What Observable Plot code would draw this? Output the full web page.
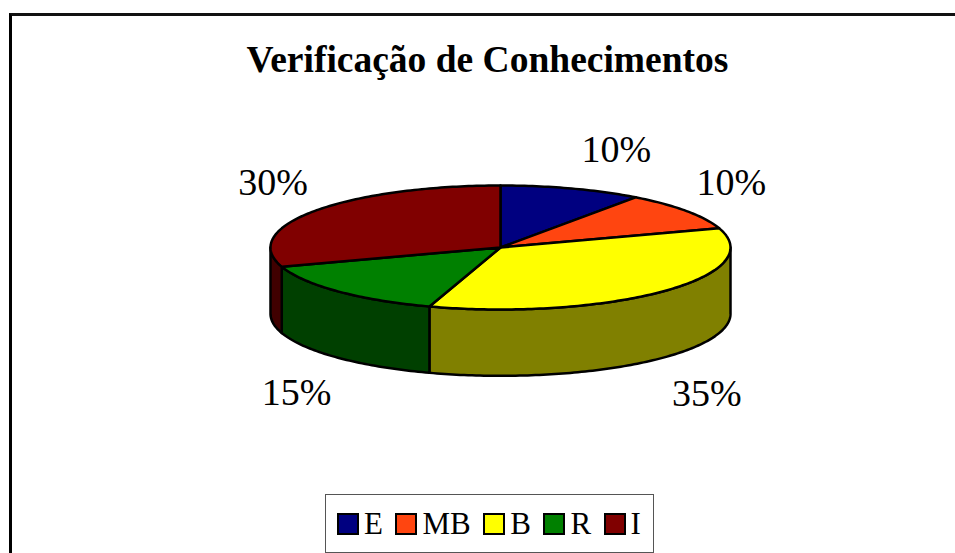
<!DOCTYPE html>
<html>
<head>
<meta charset="utf-8">
<script src="https://cdn.jsdelivr.net/npm/d3@7"></script>
<script src="https://cdn.jsdelivr.net/npm/@observablehq/plot@0.6"></script>
<style>
html,body{margin:0;padding:0;background:#fff;width:955px;height:553px;overflow:hidden}
body{position:relative;font-family:"Liberation Serif",serif;color:#000}
#frame{position:absolute;left:9px;top:13px;width:960px;height:560px;border-left:3px solid #000;border-top:3px solid #000;border-top-color:#111}
#title{position:relative;box-sizing:border-box;width:975px;height:100px;padding-top:38px;text-align:center;font-weight:bold;font-size:37.5px;line-height:44px;white-space:nowrap}
#chart{position:relative;height:394px}
#chart svg{display:block}
#legend{position:relative;box-sizing:border-box;margin-left:325px;width:329px;height:59px;border:1.5px solid #555;display:flex;align-items:center;padding-left:11px;font-size:31px;line-height:34px;background:#fff}
#legend .sw{box-sizing:border-box;width:22px;height:22px;border:2.5px solid #000;margin-right:5px;flex:none}
#legend .lb{margin-right:12.5px}
</style>
</head>
<body>
<div id="frame"></div>
<div id="title">Verificação de Conhecimentos</div>
<div id="chart"></div>
<div id="legend"></div>
<script>
const categories = ["E", "MB", "B", "R", "I"];
const shares = [10, 10, 35, 15, 30];
const topColors = ["#000080", "#FF4510", "#FFFF00", "#008000", "#800000"];
const sideColors = ["#000040", "#802208", "#808000", "#004000", "#400000"];
// label offsets from the slice's rim point, in pie-radius units
const labelDx = [0.195, 0.195, 0.19, -0.18, -0.18];
const labelDy = [0.63, 0.45, -1.65, -1.64, 0.46];
const depth = 1.07;

const total = d3.sum(shares);
let cum = 0;
const slices = categories.map((c, i) => {
  const a0 = cum / total * 2 * Math.PI;
  cum += shares[i];
  return {c, i, a0, a1: cum / total * 2 * Math.PI, share: shares[i]};
});
const rim = (a, i, y0 = 0) => ({key: i, x: Math.sin(a), y: Math.cos(a) + y0});
const arcAngles = (a0, a1) => {
  const n = Math.max(2, Math.ceil((a1 - a0) / (Math.PI / 180)));
  return d3.range(n + 1).map(k => a0 + (a1 - a0) * k / n);
};
const tops = slices.flatMap(s => {
  const p = {key: s.i, x: 0, y: 0, color: topColors[s.i]};
  return [p, ...arcAngles(s.a0, s.a1).map(a => ({...rim(a, s.i), color: topColors[s.i]})), p];
});
const sides = slices.flatMap(s => {
  const a0 = Math.max(s.a0, Math.PI / 2), a1 = Math.min(s.a1, 3 * Math.PI / 2);
  if (a1 <= a0) return [];
  const as = arcAngles(a0, a1);
  const upper = as.map(a => ({...rim(a, s.i), color: sideColors[s.i]}));
  const lower = as.slice().reverse().map(a => ({...rim(a, s.i, -depth), color: sideColors[s.i]}));
  return [...upper, ...lower, upper[0]];
});
const labels = slices.map(s => {
  const m = (s.a0 + s.a1) / 2;
  return {
    text: s.share + "%",
    x: Math.sin(m) + labelDx[s.i],
    y: Math.cos(m) + labelDy[s.i]
  };
});

const plot = Plot.plot({
  width: 955, height: 394,
  margin: 0,
  style: {background: "transparent", overflow: "visible"},
  x: {domain: [-1, 1], range: [270, 730], axis: null},
  y: {domain: [-1, 1], range: [209, 85], axis: null},
  color: {type: "identity"},
  marks: [
    Plot.line(sides, {x: "x", y: "y", z: "key", fill: "color", stroke: "#000", strokeWidth: 2.5, curve: "linear", strokeLinejoin: "round"}),
    Plot.line(tops, {x: "x", y: "y", z: "key", fill: "color", stroke: "#000", strokeWidth: 2.5, curve: "linear", strokeLinejoin: "round"}),
    Plot.text(labels, {x: "x", y: "y", text: "text", fontSize: 38, fontFamily: "Liberation Serif", fill: "#000"})
  ]
});
document.getElementById("chart").appendChild(plot);

const legend = document.getElementById("legend");
categories.forEach((c, i) => {
  const sw = document.createElement("span");
  sw.className = "sw";
  sw.style.background = topColors[i];
  const lb = document.createElement("span");
  lb.className = "lb";
  lb.textContent = c;
  legend.append(sw, lb);
});
</script>
</body>
</html>
